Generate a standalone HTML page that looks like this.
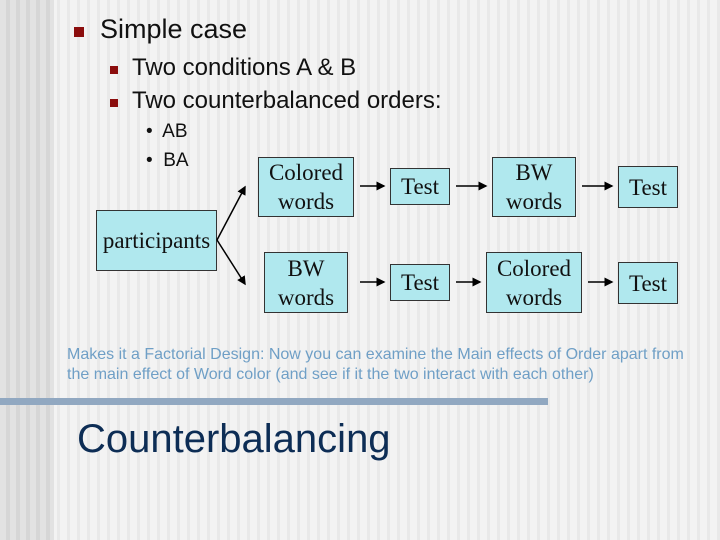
<!DOCTYPE html>
<html><head><style>
body{margin:0;width:720px;height:540px;overflow:hidden;position:relative;
background:repeating-linear-gradient(90deg,#f3f3f3 0 7px,#e9e9e9 7px 10px);font-family:"Liberation Sans",sans-serif}
.l{position:absolute;left:0;top:0;width:54px;height:540px;background:repeating-linear-gradient(90deg,#e2e2e2 0 6px,#d6d6d6 6px 10px)}
.t{position:absolute;white-space:nowrap}
.sq{position:absolute;background:#8b0d0d}
.b{position:absolute;background:#b0e8ee;border:1px solid #333;box-sizing:border-box;display:flex;align-items:center;justify-content:center;text-align:center;font-family:"Liberation Serif",serif;font-size:23px;line-height:29px;color:#111}
</style></head><body>
<div class="l"></div>
<div class="sq" style="left:74px;top:27px;width:10px;height:10px"></div>
<div class="t" style="left:100px;top:14px;font-size:27px;color:#111">Simple case</div>
<div class="sq" style="left:110px;top:66px;width:8px;height:8px"></div>
<div class="t" style="left:132px;top:54px;font-size:24px;color:#111">Two conditions A &amp; B</div>
<div class="sq" style="left:110px;top:99px;width:8px;height:8px"></div>
<div class="t" style="left:132px;top:87px;font-size:24px;color:#111">Two counterbalanced orders:</div>
<div class="t" style="left:146px;top:121px;font-size:19px;color:#111">•&nbsp; AB</div>
<div class="t" style="left:146px;top:150px;font-size:19px;color:#111">•&nbsp; BA</div>
<div class="b" style="left:96px;top:210px;width:121px;height:61px">participants</div>
<div class="b" style="left:258px;top:157px;width:96px;height:60px">Colored<br>words</div>
<div class="b" style="left:390px;top:168px;width:60px;height:37px">Test</div>
<div class="b" style="left:492px;top:157px;width:84px;height:60px">BW<br>words</div>
<div class="b" style="left:618px;top:166px;width:60px;height:42px">Test</div>
<div class="b" style="left:264px;top:252px;width:84px;height:61px">BW<br>words</div>
<div class="b" style="left:390px;top:264px;width:60px;height:37px">Test</div>
<div class="b" style="left:486px;top:252px;width:96px;height:61px">Colored<br>words</div>
<div class="b" style="left:618px;top:262px;width:60px;height:42px">Test</div>
<svg style="position:absolute;left:0;top:0" width="720" height="540">
<defs><marker id="a" markerWidth="6" markerHeight="6" refX="5" refY="3" orient="auto"><path d="M0,0L6,3L0,6z" fill="#000"/></marker></defs>
<g stroke="#000" stroke-width="1.5" marker-end="url(#a)">
<line x1="217" y1="240" x2="245" y2="187"/><line x1="217" y1="240" x2="245" y2="284"/>
<line x1="360" y1="186" x2="384" y2="186"/><line x1="456" y1="186" x2="486" y2="186"/><line x1="582" y1="186" x2="612" y2="186"/>
<line x1="360" y1="282" x2="384" y2="282"/><line x1="456" y1="282" x2="480" y2="282"/><line x1="588" y1="282" x2="612" y2="282"/>
</g></svg>
<div class="t" style="left:67px;top:345px;font-size:16px;line-height:20px;color:#6f9fc6">Makes it a Factorial Design: Now you can examine the Main effects of Order apart from<br>the main effect of Word color (and see if it the two interact with each other)</div>
<div style="position:absolute;left:0;top:398px;width:548px;height:7px;background:#91a8c1"></div>
<div class="t" style="left:77px;top:417px;font-size:40px;color:#0d2d55">Counterbalancing</div>
</body></html>
